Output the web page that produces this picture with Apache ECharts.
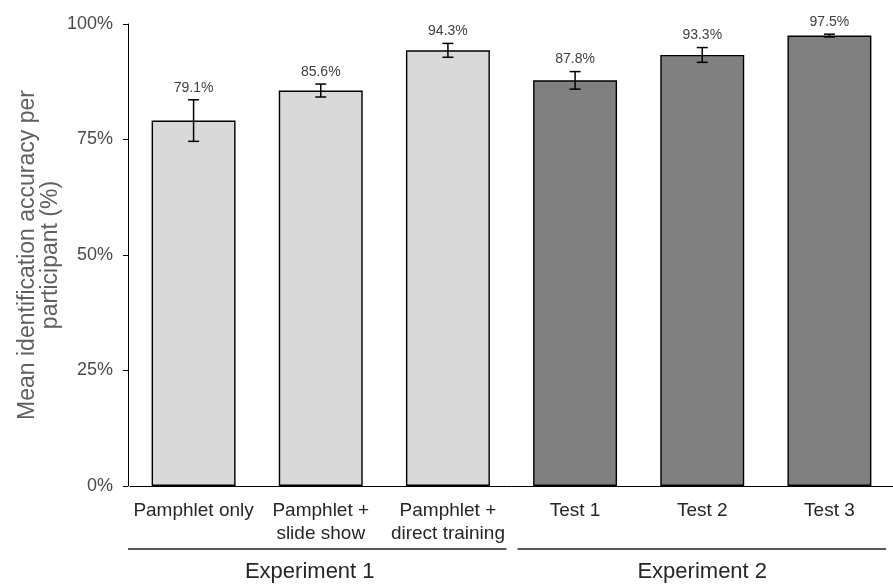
<!DOCTYPE html>
<html>
<head>
<meta charset="utf-8">
<script src="https://cdn.jsdelivr.net/npm/echarts@6/dist/echarts.min.js"></script>
<style>
  html, body { margin: 0; padding: 0; background: #fff; }
  #chart { width: 893px; height: 588px; }
</style>
</head>
<body>
<div id="chart"></div>
<script>
// values
const categories = ['Pamphlet only', 'Pamphlet +\nslide show', 'Pamphlet +\ndirect training', 'Test 1', 'Test 2', 'Test 3'];
const accuracy = [79.1, 85.6, 94.3, 87.8, 93.3, 97.5];
const errors = [4.5, 1.4, 1.5, 1.9, 1.6, 0.3];
const groupOf = [0, 0, 0, 1, 1, 1];
const groups = ['Experiment 1', 'Experiment 2'];
const yTicks = [0, 25, 50, 75, 100];

const font = 'Liberation Sans, Arial, sans-serif';
const groupColors = ['#d9d9d9', '#808080'];

const myChart = echarts.init(document.getElementById('chart'));

const option = {
    animation: false,
    grid: { left: 130, top: 24, bottom: 102, width: 772 },
    xAxis: {
        type: 'category',
        data: categories,
        axisLine: { lineStyle: { color: '#000', width: 1 } },
        axisTick: { show: false },
        axisLabel: {
            interval: 0, margin: 13,
            fontFamily: font, fontSize: 19, color: '#262626', lineHeight: 23.5
        }
    },
    yAxis: {
        type: 'value',
        min: yTicks[0], max: yTicks[yTicks.length - 1], interval: 25,
        offset: 2,
        name: 'Mean identification accuracy per\nparticipant (%)',
        nameLocation: 'middle',
        nameGap: 66,
        nameMoveOverlap: false,
        nameTextStyle: { fontFamily: font, fontSize: 23, color: '#5f5f5f', lineHeight: 23 },
        splitLine: { show: false },
        axisLine: { show: true, lineStyle: { color: '#000', width: 1 } },
        axisTick: { show: true, length: 5, lineStyle: { color: '#000' } },
        axisLabel: {
            margin: 15, fontFamily: font, fontSize: 18, color: '#4a4a4a',
            formatter: v => v + '%'
        }
    },
    series: [
        {
            type: 'bar',
            data: accuracy.map((v, i) => ({
                value: v,
                itemStyle: { color: groupColors[groupOf[i]] }
            })),
            barCategoryGap: '34%',
            itemStyle: { borderColor: '#000', borderWidth: 1.4 }
        },
        {
            type: 'custom',
            data: accuracy.map((v, i) => [i, v, errors[i]]),
            z: 10,
            renderItem: function (params, api) {
                const x = api.value(0);
                const v = api.value(1);
                const e = api.value(2);
                const hi = api.coord([x, v + e]);
                const lo = api.coord([x, v - e]);
                const cap = 5.5;
                const ls = { stroke: '#000', lineWidth: 1.5 };
                return {
                    type: 'group',
                    children: [
                        { type: 'line', shape: { x1: hi[0], y1: hi[1], x2: lo[0], y2: lo[1] }, style: ls },
                        { type: 'line', shape: { x1: hi[0] - cap, y1: hi[1], x2: hi[0] + cap, y2: hi[1] }, style: ls },
                        { type: 'line', shape: { x1: lo[0] - cap, y1: lo[1], x2: lo[0] + cap, y2: lo[1] }, style: ls },
                        {
                            type: 'text',
                            style: {
                                x: hi[0], y: hi[1] - 5,
                                text: v.toFixed(1) + '%',
                                align: 'center', verticalAlign: 'bottom',
                                font: '14px ' + font, fill: '#404040'
                            }
                        }
                    ]
                };
            }
        }
    ]
};
myChart.setOption(option);

// group brackets under the category labels
function drawGroups() {
    const px = i => myChart.convertToPixel({ xAxisIndex: 0 }, i);
    const band = px(1) - px(0);
    const labelShift = [-11, 0];
    const elements = [];
    groups.forEach((g, gi) => {
        const idx = groupOf.map((k, i) => k === gi ? i : -1).filter(i => i >= 0);
        const first = idx[0];
        const last = idx[idx.length - 1];
        const x0 = px(first) - band / 2 + (first === 0 ? -2 : 6);
        const x1 = Math.min(px(last) + band / 2 - 5, 886);
        elements.push({
            type: 'line',
            shape: { x1: x0, y1: 549, x2: x1, y2: 549 },
            style: { stroke: '#222', lineWidth: 1.5 }
        });
        elements.push({
            type: 'text',
            x: (px(first) + px(last)) / 2 + labelShift[gi],
            y: 572,
            style: {
                text: g, align: 'center', verticalAlign: 'middle',
                font: '22px ' + font, fill: '#262626'
            }
        });
    });
    myChart.setOption({ graphic: elements });
}
drawGroups();
</script>
</body>
</html>
